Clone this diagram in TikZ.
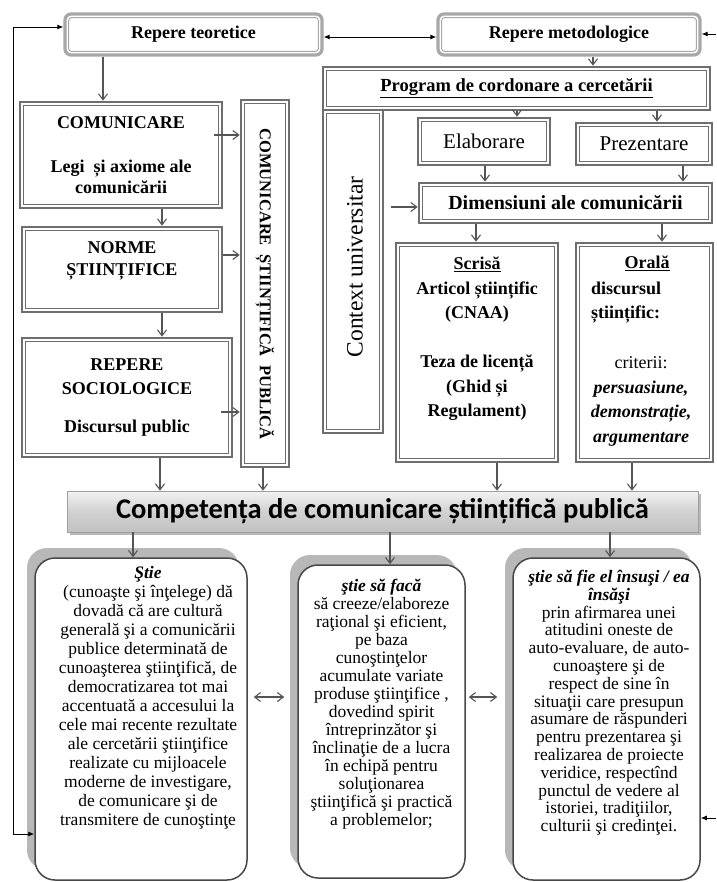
\documentclass[tikz,border=0pt]{standalone}
\usepackage{fontspec}
\setmainfont{Liberation Serif}
\newfontfamily\banfont{Carlito}
\usetikzlibrary{arrows.meta,shadows}
\newcommand\myfs[2]{\fontsize{#1}{#2}\selectfont}
\definecolor{bgray}{HTML}{6E6E6E}
\definecolor{lgray}{HTML}{A8A8A8}
\definecolor{agray}{HTML}{555555}
\definecolor{sgray}{HTML}{B8B8B8}
\tikzset{
  dbox/.style={draw=bgray, line width=2.6pt, fill=white, inner sep=0pt, align=center,
    font=\bfseries\myfs{18}{21},
    path picture={\draw[bgray,line width=0.9pt]
      ([shift={(3.2pt,-3.2pt)}]path picture bounding box.north west) rectangle
      ([shift={(-3.2pt,3.2pt)}]path picture bounding box.south east);}},
  rbox/.style={draw=lgray, line width=3.2pt, rounded corners=6pt, fill=white, inner sep=0pt,
    font=\bfseries\myfs{18}{21},
    path picture={\draw[lgray,line width=1pt,rounded corners=3pt]
      ([shift={(3.6pt,-3.6pt)}]path picture bounding box.north west) rectangle
      ([shift={(-3.6pt,3.6pt)}]path picture bounding box.south east);}},
  btxt/.style={align=center, inner sep=0pt, font=\bfseries\myfs{18}{22}},
  ctxt/.style={align=center, inner sep=0pt},
  garr/.style={draw=agray, line width=1.1pt, -{Straight Barb[length=6pt,width=9pt]}},
  gdarr/.style={draw=agray, line width=1.1pt, {Straight Barb[length=6pt,width=9pt]}-{Straight Barb[length=6pt,width=9pt]}},
  bline/.style={draw=black, line width=0.9pt},
  cbox/.style={draw=black!72, line width=1.5pt, rounded corners=20pt, fill=white, inner sep=0pt},
  cshadow/.style={fill=sgray, draw=none, rounded corners=20pt, inner sep=0pt},
}
\begin{document}
\begin{tikzpicture}[x=1pt,y=-1pt]
\useasboundingbox (0,0) rectangle (716,882);
\fill[white] (0,0) rectangle (716,882);

% top boxes
\node[rbox, minimum width=257pt, minimum height=41pt] (rt) at (193.5,34.5) {Repere teoretice};
\node[rbox, minimum width=262pt, minimum height=41pt] (rm) at (569,34.5) {Repere metodologice};

% left column
\node[dbox, minimum width=202pt, minimum height=106pt] (com) at (121,155) {COMUNICARE\\[23pt]Legi\ \ și axiome ale\\comunicării};
\node[dbox, minimum width=200pt, minimum height=85pt] (norme) at (122,269.5) {};
\node[btxt] (normeT) at (122,261) {NORME\\ȘTIINȚIFICE};
\node[dbox, minimum width=210pt, minimum height=119pt, font=\bfseries\myfs{18}{24}] (rep) at (127,397.5) {REPERE\\SOCIOLOGICE\\[14pt]Discursul public};
\node[dbox, minimum width=48pt, minimum height=367pt] (vert) at (265,283.5) {};
\node[rotate=-90, inner sep=0pt, font=\bfseries\myfs{16.5}{18}] (vertT) at (265,284) {COMUNICARE\ \ ȘTIINȚIFICĂ\ \ PUBLICĂ};

% right part
\node[dbox, minimum width=60pt, minimum height=323pt] (ctx) at (353,271.5) {};
\node[rotate=90, inner sep=0pt, font=\myfs{23.5}{26}] (ctxT) at (355,267) {Context universitar};
\node[dbox, minimum width=387pt, minimum height=43pt, font=\bfseries\myfs{18.5}{22}] (prog) at (516.5,88.5) {\underline{Program de cordonare a cercetării}};
\node[dbox, minimum width=132pt, minimum height=47pt, font=\myfs{21}{24}] (elab) at (484,141.5) {Elaborare};
\node[dbox, minimum width=136pt, minimum height=42pt, font=\myfs{21}{24}] (prez) at (644,144) {Prezentare};
\node[dbox, minimum width=293pt, minimum height=40pt, font=\bfseries\myfs{20}{24}] (dim) at (565.5,203) {Dimensiuni ale comunicării};
\node[dbox, minimum width=162pt, minimum height=219pt] (scr) at (477,352.5) {};
\node[btxt, font=\bfseries\myfs{18}{24.5}] (scrT) at (477,339) {\underline{Scrisă}\\Articol științific\\(CNAA)\\[24.5pt]Teza de licență\\(Ghid și\\Regulament)};
\node[dbox, minimum width=137pt, minimum height=219pt] (ora) at (644.5,352.5) {};
\node[btxt, font=\bfseries\myfs{18}{24}] (oraT1) at (647,263) {\underline{Orală}};
\node[anchor=west, align=left, inner sep=0pt, font=\bfseries\myfs{18}{24}] (oraT2) at (591,303) {discursul\\științific:};
\node[ctxt, font=\myfs{18}{24.5}] (oraT3) at (641,401.5) {criterii:\\\textbf{\textit{persuasiune,}}\\\textbf{\textit{demonstrație,}}\\\textbf{\textit{argumentare}}};

% banner
\node[draw=gray!75, line width=0.6pt, top color=gray!10, bottom color=gray!48, middle color=gray!36, inner sep=0pt,
  minimum width=631pt, minimum height=41pt,
  drop shadow={shadow xshift=2.5pt, shadow yshift=-2.5pt, fill=black!55},
  font=\banfont\bfseries\myfs{28.5}{30}] (ban) at (382.5,511.5) {Competența de comunicare științifică publică};

% bottom boxes
\node[cshadow, minimum width=212pt, minimum height=322pt] (bLs) at (133,709) {};
\node[cbox, minimum width=212pt, minimum height=322pt] (bL) at (141,719) {};
\node[cshadow, minimum width=167pt, minimum height=313pt] (bMs) at (373.5,711.5) {};
\node[cbox, minimum width=167pt, minimum height=313pt] (bM) at (381.5,721.5) {};
\node[cshadow, minimum width=187pt, minimum height=322pt] (bRs) at (598.5,709) {};
\node[cbox, minimum width=187pt, minimum height=322pt] (bR) at (606.5,719) {};

\node[ctxt, anchor=north, font=\myfs{17.5}{19}] (bLT) at (148,566) {\textbf{\textit{Ştie}}\\
(cunoaşte şi înţelege) dă\\
dovadă că are cultură\\
generală şi a comunicării\\
publice determinată de\\
cunoaşterea ştiinţifică, de\\
democratizarea tot mai\\
accentuată a accesului la\\
cele mai recente rezultate\\
ale cercetării ştiinţifice\\
realizate cu mijloacele\\
moderne de investigare,\\
de comunicare şi de\\
transmitere de cunoştinţe};

\node[ctxt, anchor=north, font=\myfs{17.5}{18}] (bMT) at (381.5,579) {\textbf{\textit{ştie să facă}}\\
să creeze/elaboreze\\
raţional şi eficient,\\
pe baza\\
cunoştinţelor\\
acumulate variate\\
produse ştiinţifice ,\\
dovedind spirit\\
întreprinzător şi\\
înclinaţie de a lucra\\
în echipă pentru\\
soluţionarea\\
ştiinţifică şi practică\\
a problemelor;};

\node[ctxt, anchor=north, font=\myfs{17.5}{17.8}] (bRT) at (609,570) {\textbf{\textit{ştie să fie el însuşi / ea}}\\
\textbf{\textit{însăşi}}\\
prin afirmarea unei\\
atitudini oneste de\\
auto-evaluare, de auto-\\
cunoaştere şi de\\
respect de sine în\\
situaţii care presupun\\
asumare de răspunderi\\
pentru prezentarea şi\\
realizarea de proiecte\\
veridice, respectînd\\
punctul de vedere al\\
istoriei, tradiţiilor,\\
culturii şi credinţei.};

% helper coordinates
\coordinate (g1) at (103,0);
\coordinate (g2) at (593,0);
\coordinate (g3) at (162,0);
\coordinate (g4) at (517,0);
\coordinate (g5) at (657,0);
\coordinate (g6) at (485,0);
\coordinate (g7) at (683,0);
\coordinate (g8) at (476,0);
\coordinate (g9) at (662,0);
\coordinate (g10) at (160,0);
\coordinate (g11) at (263,0);
\coordinate (g12) at (497,0);
\coordinate (g13) at (632,0);
\coordinate (g14) at (133,0);
\coordinate (g15) at (390,0);
\coordinate (g16) at (610,0);
\coordinate (h1) at (0,135);
\coordinate (h2) at (0,255);
\coordinate (h3) at (0,412);
\coordinate (h4) at (0,207);
\coordinate (h5) at (0,697);
\coordinate (h6) at (0,27);
\coordinate (h7) at (0,37);
\coordinate (lpB) at (13,834);
\coordinate (re1) at (716,34);
\coordinate (re2) at (716,818);

% gray arrows
\draw[garr] (rt.south -| g1) -- (com.north -| g1);
\draw[garr] (rm.south -| g2) -- (prog.north -| g2);
\draw[garr] (com.south -| g3) -- (norme.north -| g3);
\draw[garr] (norme.south -| g3) -- (rep.north -| g3);
\draw[garr, shorten <=-9pt] (com.east |- h1) -- (vert.west |- h1);
\draw[garr] (norme.east |- h2) -- (vert.west |- h2);
\draw[garr, shorten <=-12pt] (rep.east |- h3) -- (vert.west |- h3);
\draw[garr] (prog.south -| g4) -- (elab.north -| g4);
\draw[garr] (prog.south -| g5) -- (prez.north -| g5);
\draw[garr] (elab.south -| g6) -- (dim.north -| g6);
\draw[garr] (prez.south -| g7) -- (dim.north -| g7);
\draw[garr, shorten <=7pt] (ctx.east |- h4) -- (dim.west |- h4);
\draw[garr] (dim.south -| g8) -- (scr.north -| g8);
\draw[garr] (dim.south -| g9) -- (ora.north -| g9);
\draw[garr] (rep.south -| g10) -- (ban.north -| g10);
\draw[garr] (vert.south -| g11) -- (ban.north -| g11);
\draw[garr] (scr.south -| g12) -- (ban.north -| g12);
\draw[garr] (ora.south -| g13) -- (ban.north -| g13);
\draw[garr] (ban.south -| g14) -- (bL.north -| g14);
\draw[garr] (ban.south -| g15) -- (bM.north -| g15);
\draw[garr] (ban.south -| g16) -- (bR.north -| g16);
\draw[gdarr, shorten <=6pt, shorten >=13pt] (bL.east |- h5) -- (bM.west |- h5);
\draw[gdarr, shorten <=3pt, shorten >=15pt] (bM.east |- h5) -- (bR.west |- h5);

% black connectors
\draw[bline, {Latex[length=6pt,width=5pt]}-{Latex[length=6pt,width=5pt]}] (rt.east |- h7) -- (rm.west |- h7);
\draw[bline, -{Latex[length=6pt,width=5pt]}] (re1) -- (rm.east |- re1);
\draw[bline, -{Latex[length=6pt,width=5pt]}] (re2) -- (bR.east |- re2);
\draw[bline, {Latex[length=6pt,width=5pt]}-{Latex[length=6pt,width=5pt]}] (rt.west |- h6) -| (lpB) -- (bL.west |- lpB);
\end{tikzpicture}
\end{document}
